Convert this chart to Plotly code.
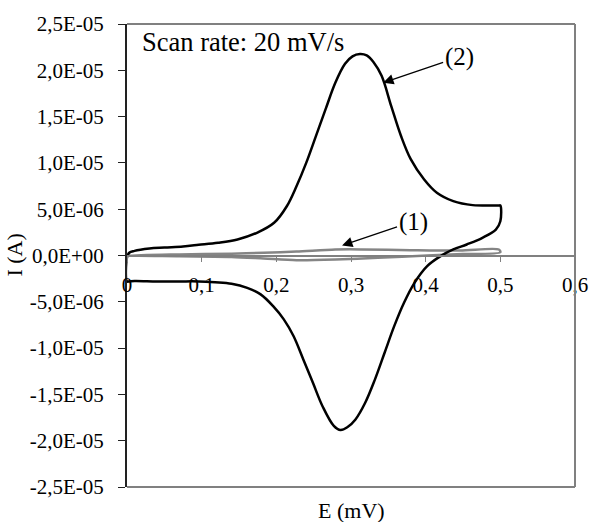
import plotly.graph_objects as go

# Curve (2): cyclic voltammogram (E in axis units, I values in 1e-6 A)
E2 = [0.0, 0.0, 0.003, 0.01, 0.03, 0.05, 0.075, 0.096, 0.122, 0.148, 0.174, 0.197, 0.214,
      0.227, 0.240, 0.253, 0.266, 0.279, 0.292, 0.302, 0.312, 0.321, 0.330, 0.341, 0.354, 0.367,
      0.380, 0.398, 0.415, 0.437, 0.463, 0.498, 0.5,
      0.5, 0.494, 0.476, 0.455, 0.437, 0.420, 0.402, 0.385, 0.371, 0.358, 0.345, 0.332,
      0.319, 0.306, 0.295, 0.286, 0.277, 0.262, 0.249, 0.236, 0.223, 0.210, 0.196, 0.179,
      0.161, 0.140, 0.118, 0.096, 0.07, 0.04, 0.01, 0.003, 0.0]
I2_u = [-2.8, -0.2, 0.3, 0.5, 0.75, 0.86, 0.98, 1.15, 1.37, 1.73, 2.45, 3.53, 5.32,
        7.48, 10.0, 12.9, 15.8, 18.65, 20.7, 21.5, 21.75, 21.6, 20.9, 19.4, 16.1, 12.9,
        10.4, 8.2, 6.77, 5.87, 5.44, 5.4, 5.4,
        3.7, 2.8, 1.91, 1.19, 0.65, -0.07, -1.15, -2.95, -5.1, -7.6, -10.5, -13.4,
        -15.9, -17.7, -18.55, -18.85, -18.4, -16.3, -13.75, -11.2, -8.7, -6.9, -5.5, -4.2,
        -3.5, -3.06, -2.9, -2.8, -2.8, -2.8, -2.75, -2.8, -2.8]

# Curve (1): gray background scan
E1 = [0.0, 0.07, 0.14, 0.183, 0.227, 0.279, 0.314, 0.38, 0.446, 0.498,
      0.5, 0.45, 0.402, 0.336, 0.279, 0.227, 0.183, 0.14, 0.07, 0.0]
I1_u = [0.0, 0.12, 0.2, 0.3, 0.43, 0.65, 0.66, 0.58, 0.54, 0.65,
        0.35, 0.15, 0.0, -0.25, -0.43, -0.5, -0.32, -0.15, -0.08, 0.0]

x_ticks = [0, 0.1, 0.2, 0.3, 0.4, 0.5, 0.6]
x_tick_labels = ["0", "0,1", "0,2", "0,3", "0,4", "0,5", "0,6"]
y_ticks = [2.5e-5, 2.0e-5, 1.5e-5, 1.0e-5, 5.0e-6, 0.0, -5.0e-6, -1.0e-5, -1.5e-5, -2.0e-5, -2.5e-5]
y_tick_labels = ["2,5E-05", "2,0E-05", "1,5E-05", "1,0E-05", "5,0E-06", "0,0E+00",
                 "-5,0E-06", "-1,0E-05", "-1,5E-05", "-2,0E-05", "-2,5E-05"]

I2 = [v * 1e-6 for v in I2_u]
I1 = [v * 1e-6 for v in I1_u]

FONT = "Times New Roman, Liberation Serif, serif"

fig = go.Figure()
fig.add_trace(go.Scatter(x=E1, y=I1, mode="lines",
                         line=dict(color="#858585", width=2.5, shape="spline", smoothing=0.8),
                         showlegend=False, hoverinfo="skip"))
fig.add_trace(go.Scatter(x=E2, y=I2, mode="lines",
                         line=dict(color="black", width=2.5, shape="spline", smoothing=1.0),
                         showlegend=False, hoverinfo="skip"))

fig.update_layout(
    width=600, height=522,
    margin=dict(l=127, r=16, t=24, b=35),
    paper_bgcolor="white", plot_bgcolor="white",
    font=dict(family=FONT, color="black", size=21),
    xaxis=dict(range=[0, 0.6], tickvals=x_ticks, ticktext=x_tick_labels,
               showgrid=False, zeroline=False, showline=True, linecolor="#808080", linewidth=1.5,
               ticks="outside", ticklen=6, tickcolor="#808080", tickwidth=1.2,
               ticklabelstandoff=5,
               anchor="free", position=0.5, tickfont=dict(size=21, family=FONT)),
    yaxis=dict(range=[-2.5e-5, 2.5e-5], tickvals=y_ticks, ticktext=y_tick_labels,
               showgrid=False, zeroline=False, showline=True, linecolor="#222222", linewidth=2,
               ticks="outside", ticklen=7, tickcolor="#222222", tickwidth=1.2,
               ticklabelstandoff=10,
               tickfont=dict(size=21, family=FONT)),
    shapes=[
        dict(type="line", xref="paper", yref="paper", x0=0, x1=1, y0=1, y1=1, line=dict(color="#808080", width=2)),
        dict(type="line", xref="paper", yref="paper", x0=1, x1=1, y0=0, y1=1, line=dict(color="#808080", width=2)),
        dict(type="line", xref="paper", yref="paper", x0=0, x1=1, y0=0, y1=0, line=dict(color="#808080", width=2)),
    ],
    annotations=[
        dict(text="Scan rate: 20 mV/s", xref="paper", yref="paper", x=0.03, y=0.998,
             xanchor="left", yanchor="top", showarrow=False, font=dict(size=26.5, family=FONT)),
        dict(text="E (mV)", xref="paper", yref="paper", x=0.5, y=-0.05, xanchor="center", yanchor="middle",
             showarrow=False, font=dict(size=22, family=FONT)),
        dict(text="I (A)", xref="paper", yref="paper", x=-0.252, y=0.5, textangle=-90,
             xanchor="center", yanchor="middle", showarrow=False, font=dict(size=22, family=FONT)),
        dict(text="(2)", x=0.343, y=1.865e-5, xref="x", yref="y", ax=76, ay=-26,
             showarrow=True, arrowhead=2, arrowsize=1.6, arrowwidth=1.3, arrowcolor="black",
             font=dict(size=25, family=FONT)),
        dict(text="(1)", x=0.288, y=1.08e-6, xref="x", yref="y", ax=71, ay=-24,
             showarrow=True, arrowhead=2, arrowsize=1.6, arrowwidth=1.3, arrowcolor="black",
             font=dict(size=25, family=FONT)),
    ],
)

fig.write_html("out.html")
